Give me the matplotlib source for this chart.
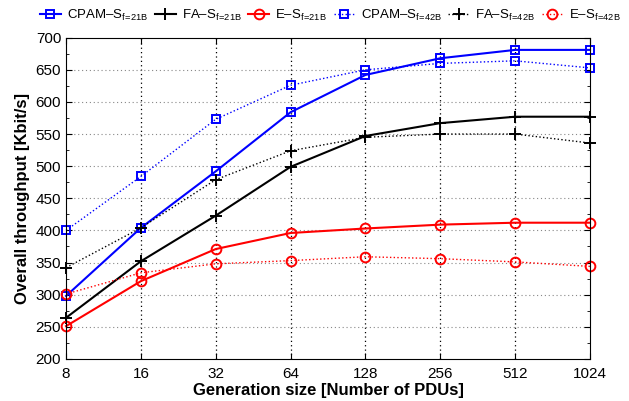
import numpy as np
import matplotlib.pyplot as plt
from matplotlib.ticker import FixedLocator, NullFormatter

plt.rcParams['font.family'] = ['Liberation Sans', 'DejaVu Sans']
plt.rcParams['mathtext.fontset'] = 'custom'
plt.rcParams['mathtext.rm'] = 'Liberation Sans'

# generation sizes
gen_size = [8, 16, 32, 64, 128, 256, 512, 1024]

# throughput [Kbit/s]
cpam_21 = [298, 404, 492, 584, 642, 668, 681, 681]
fa_21 = [264, 352, 423, 499, 547, 567, 577, 577]
es_21 = [251, 321, 371, 396, 403, 409, 412, 412]
cpam_42 = [400, 484, 573, 626, 650, 660, 664, 653]
fa_42 = [342, 404, 479, 524, 545, 550, 550, 536]
es_42 = [301, 334, 348, 353, 359, 356, 351, 344]

labels = [r'CPAM–S$_{\mathregular{f\!=\!21B}}$', r'FA–S$_{\mathregular{f\!=\!21B}}$',
          r'E–S$_{\mathregular{f\!=\!21B}}$', r'CPAM–S$_{\mathregular{f\!=\!42B}}$',
          r'FA–S$_{\mathregular{f\!=\!42B}}$', r'E–S$_{\mathregular{f\!=\!42B}}$']

fig = plt.figure(figsize=(6.29, 4.01), dpi=100)
ax = fig.add_axes([0.105, 0.105, 0.833, 0.801])

# vertical / horizontal grid
for x in gen_size[1:-1]:
    ax.axvline(x, color='black', linestyle=(0, (1, 2.5)), linewidth=0.9, zorder=0)
for y in range(250, 700, 50):
    ax.axhline(y, color='#888888', linestyle=(0, (1, 2.5)), linewidth=0.8, zorder=0)

lines = []
lines += ax.plot(gen_size, cpam_21, '-', color='blue', marker='s', mfc='none', ms=6, mew=1.4, lw=1.5)
lines += ax.plot(gen_size, fa_21, '-', color='black', marker='+', ms=9, mew=1.4, lw=1.5)
lines += ax.plot(gen_size, es_21, '-', color='red', marker='o', mfc='none', ms=7, mew=1.4, lw=1.5)
lines += ax.plot(gen_size, cpam_42, ':', color='blue', marker='s', mfc='none', ms=6, mew=1.4, lw=1.0)
lines += ax.plot(gen_size, fa_42, ':', color='black', marker='+', ms=9, mew=1.4, lw=1.0)
lines += ax.plot(gen_size, es_42, ':', color='red', marker='o', mfc='none', ms=7, mew=1.4, lw=1.0)
for ln in lines:
    ln.set_clip_on(False)

ax.set_xscale('log', base=2)
ax.set_xlim(8, 1024)
ax.set_ylim(200, 700)
ax.set_xticks(gen_size)
ax.set_xticklabels([str(g) for g in gen_size])
ax.xaxis.set_minor_locator(FixedLocator([]))
ax.set_yticks(range(200, 701, 50))
ax.yaxis.set_minor_locator(FixedLocator(np.arange(225, 700, 50)))
ax.yaxis.set_minor_formatter(NullFormatter())
ax.tick_params(direction='in', which='both', top=True, right=True, labelsize=11)
ax.tick_params(which='major', length=4)
ax.tick_params(which='minor', length=2.5)
ax.tick_params(axis='x', pad=6)

ax.set_xlabel('Generation size [Number of PDUs]', fontsize=12, fontweight='bold', labelpad=1)
ax.set_ylabel('Overall throughput [Kbit/s]', fontsize=12, fontweight='bold', labelpad=4)

fig.legend(lines, labels, loc='center', bbox_to_anchor=(0.525, 0.962), ncol=6,
           frameon=False, fontsize=9.5, handlelength=1.6, handletextpad=0.45,
           columnspacing=0.5, borderaxespad=0, borderpad=0)

fig.savefig('out.png', dpi=100)
